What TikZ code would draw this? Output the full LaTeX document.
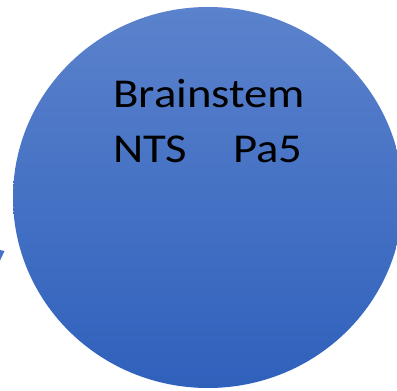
\documentclass[tikz,border=0pt]{standalone}
\usepackage{fontspec}
\setmainfont{Carlito}
\usepackage{xcolor}
\usepackage{tikz}
\usetikzlibrary{positioning}
\usetikzlibrary{shapes.geometric}
\definecolor{topblue}{HTML}{5B82CC}
\definecolor{botblue}{HTML}{2F61BC}
\definecolor{arrowblue}{HTML}{4472C4}
\tikzset{
    region/.style = {ellipse, inner sep=0pt, minimum width=390pt, minimum height=381pt,
        top color=topblue, bottom color=botblue, draw=none},
    etiquette/.style = {inner sep=0pt, anchor=base west, text=black,
        xscale=1.14, transform shape,
        font=\fontsize{41pt}{49pt}\selectfont}
}

\begin{document}
\begin{tikzpicture}[x=1pt, y=1pt]
                \useasboundingbox (0,0) rectangle (397,391);
                \node (stem) [region] at (208,193.5) {};
                \node (titre) [etiquette] at (113,283.3) {Brainstem};
                \node (nts) [etiquette] at (113,228) {NTS};
                \node (pa5) [etiquette] at (233,228) {Pa5};
                % bout de fleche qui arrive par la gauche
                \fill[arrowblue] (-3,141.5) -- (4.5,140) -- (-3,124) -- cycle;
            \end{tikzpicture}
\end{document}
